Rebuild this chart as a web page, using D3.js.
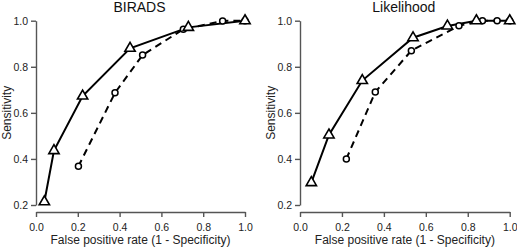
<!DOCTYPE html>
<html><head><meta charset="utf-8">
<script src="https://cdn.jsdelivr.net/npm/d3@7"></script>
<style>body{margin:0;background:#fff}svg{display:block}text{font-family:"Liberation Sans",Arial,Helvetica,sans-serif}</style>
</head><body><svg id="c" width="517" height="247"></svg>
<script>
const xTicks = [0.0, 0.2, 0.4, 0.6, 0.8, 1.0];
const yTicks = [0.2, 0.4, 0.6, 0.8, 1.0];
const panelTitles = ["BIRADS", "Likelihood"];
const xTitle = "False positive rate (1 - Specificity)";
const yTitle = "Sensitivity";

// BIRADS panel
const biradsTriFpr  = [0.04, 0.086, 0.223, 0.45, 0.729, 1.0];
const biradsTriSens = [0.214, 0.436, 0.673, 0.88, 0.971, 1.0];
const biradsCirFpr  = [0.203, 0.378, 0.51, 0.705, 0.893, 1.0];
const biradsCirSens = [0.368, 0.687, 0.851, 0.963, 0.999, 1.0];
// Likelihood panel
const likTriFpr  = [0.054, 0.138, 0.297, 0.539, 0.703, 0.841, 1.0];
const likTriSens = [0.297, 0.504, 0.74, 0.926, 0.977, 1.0, 1.0];
const likCirFpr  = [0.221, 0.359, 0.531, 0.758, 0.87, 0.94, 1.0];
const likCirSens = [0.40, 0.69, 0.87, 0.978, 1.0, 1.0, 1.0];

const panels = [
  {title: panelTitles[0], tri: [biradsTriFpr, biradsTriSens], cir: [biradsCirFpr, biradsCirSens], x0: 36, x1: 245},
  {title: panelTitles[1], tri: [likTriFpr, likTriSens], cir: [likCirFpr, likCirSens], x0: 300, x1: 509.7}
];

const svg = d3.select("#c");
const y = d3.scaleLinear().domain([0.2, 1.0]).range([205, 20.7]);
const fmt = d3.format(".1f");
const axisColor = "#555";

panels.forEach((p, i) => {
  const x = d3.scaleLinear().domain([0, 1]).range([p.x0, p.x1]);
  const g = svg.append("g");
  const dx = p.x0 - 36;

  const ya = g.append("g").attr("transform", `translate(${p.x0},0)`)
    .call(d3.axisLeft(y).tickValues(yTicks).tickFormat(fmt).tickSize(5).tickPadding(3).tickSizeOuter(0));
  const xa = g.append("g").attr("transform", `translate(0,212)`)
    .call(d3.axisBottom(x).tickValues(xTicks).tickFormat(fmt).tickSize(5).tickPadding(7).tickSizeOuter(0));
  [ya, xa].forEach(a => {
    a.select(".domain").attr("stroke", axisColor).attr("stroke-width", 1.4);
    a.selectAll(".tick line").attr("stroke", axisColor).attr("stroke-width", 1.4);
    a.selectAll(".tick text").attr("fill", "#222").style("font-size", "10.5px").style("font-family", '"Liberation Sans",Arial,sans-serif');
  });

  g.append("text").attr("x", (p.x0 + p.x1) / 2 - 1).attr("y", 12).attr("text-anchor", "middle")
    .style("font-size", "14px").attr("fill", "#111").text(p.title);
  g.append("text").attr("x", (p.x0 + p.x1) / 2).attr("y", 244).attr("text-anchor", "middle")
    .style("font-size", "12px").attr("fill", "#222").text(xTitle);
  g.append("text").attr("transform", `translate(${10.5 + dx},${(20.7 + 205) / 2}) rotate(-90)`).attr("text-anchor", "middle")
    .style("font-size", "12px").attr("fill", "#222").text(yTitle);

  const triPts = p.tri[0].map((v, k) => [v, p.tri[1][k]]);
  const cirPts = p.cir[0].map((v, k) => [v, p.cir[1][k]]);
  const line = d3.line().x(d => x(d[0])).y(d => y(d[1]));

  g.append("path").attr("d", line(cirPts)).attr("fill", "none").attr("stroke", "#000")
    .attr("stroke-width", 2).attr("stroke-dasharray", "7,5");
  g.append("path").attr("d", line(triPts)).attr("fill", "none").attr("stroke", "#000")
    .attr("stroke-width", 2);

  g.selectAll("circle.c").data(cirPts).join("circle").attr("class", "c")
    .attr("cx", d => x(d[0])).attr("cy", d => y(d[1])).attr("r", 3)
    .attr("fill", "#fff").attr("stroke", "#000").attr("stroke-width", 1.5);
  g.selectAll("path.t").data(triPts).join("path").attr("class", "t")
    .attr("transform", d => `translate(${x(d[0])},${y(d[1])})`)
    .attr("d", d3.symbol(d3.symbolTriangle, 46)())
    .attr("fill", "#fff").attr("stroke", "#000").attr("stroke-width", 1.6);
});
</script></body></html>
